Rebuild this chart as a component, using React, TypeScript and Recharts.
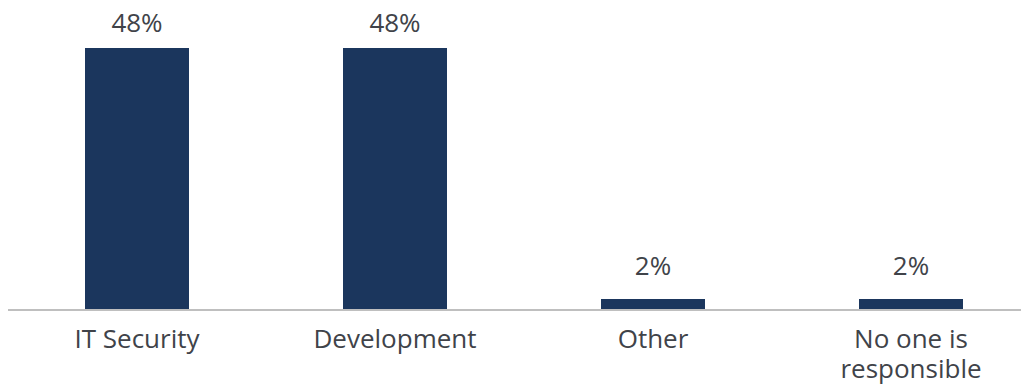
import { Bar, BarChart, LabelList, XAxis, YAxis } from "recharts";

const categories = ["IT Security", "Development", "Other", "No one is responsible"];
const shares = [48, 48, 2, 2];

const data = categories.map((name, i) => ({ name, share: shares[i] }));

const NAVY = "#1b365d";
const TEXT = "#404349";
const FONT = "'Open Sans', sans-serif";

// greedy word wrap, roughly what the original does for long category names
function wrap(label: string, maxChars = 12): string[] {
  const lines: string[] = [];
  let cur = "";
  for (const w of label.split(" ")) {
    const next = cur ? cur + " " + w : w;
    if (next.length > maxChars && cur) {
      lines.push(cur);
      cur = w;
    } else {
      cur = next;
    }
  }
  if (cur) lines.push(cur);
  return lines;
}

function CategoryTick(props: any) {
  const { x, y, payload } = props;
  const lines = wrap(String(payload.value));
  return (
    <text x={x} y={y + 38} textAnchor="middle" fill={TEXT} fontFamily={FONT} fontSize={26}>
      {lines.map((line, i) => (
        <tspan key={i} x={x} dy={i === 0 ? 0 : 30}>
          {line}
        </tspan>
      ))}
    </text>
  );
}

function ValueLabel(props: any) {
  const { x, y, width, value } = props;
  // keep labels from running off the top of the chart
  const ly = Math.max(y - 24, 32);
  return (
    <text x={x + width / 2} y={ly} textAnchor="middle" fill={TEXT} fontFamily={FONT} fontSize={26}>
      {value}%
    </text>
  );
}

export default function App() {
  return (
    <div style={{ margin: "-8px 0 0 -8px", width: 1029, height: 387, overflow: "hidden", background: "#ffffff" }}>
      <BarChart width={1040} height={387} data={data} margin={{ top: 48, right: 0, bottom: 0, left: 8 }}>
        <XAxis
          dataKey="name"
          height={77}
          tickLine={false}
          tickSize={0}
          tickMargin={0}
          interval={0}
          axisLine={{ stroke: "#bfbfbf", strokeWidth: 2 }}
          tick={<CategoryTick />}
        />
        <YAxis hide domain={[0, 48]} />
        <Bar dataKey="share" fill={NAVY} barSize={104} isAnimationActive={false}>
          <LabelList dataKey="share" content={<ValueLabel />} />
        </Bar>
      </BarChart>
    </div>
  );
}
